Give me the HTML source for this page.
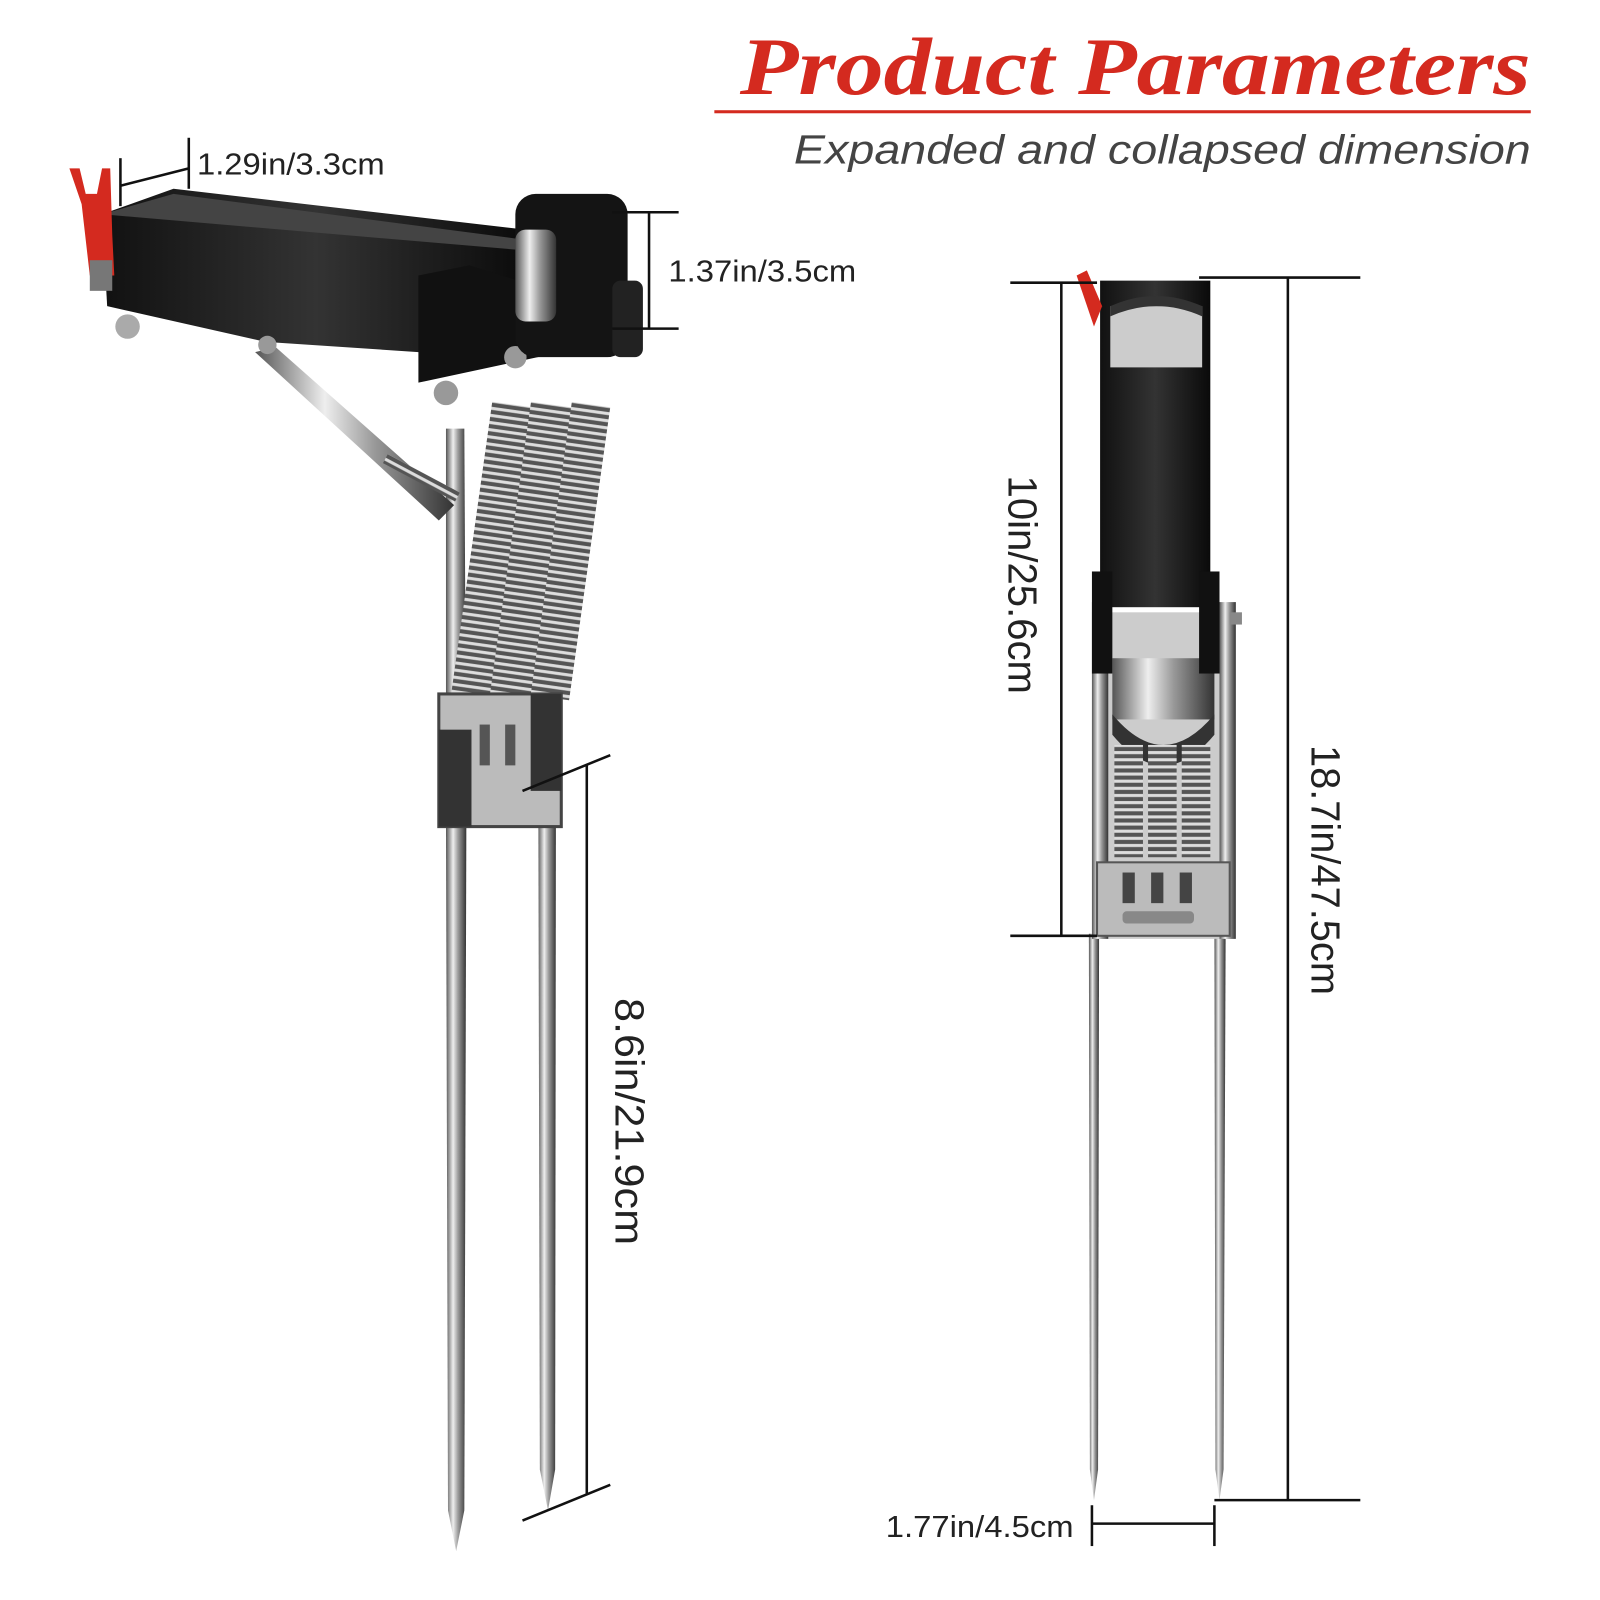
<!DOCTYPE html>
<html><head><meta charset="utf-8"><style>
html,body{margin:0;padding:0;background:#fff;}
svg{display:block}
</style></head><body>
<svg width="1600" height="1600" viewBox="0 0 1600 1600" xmlns="http://www.w3.org/2000/svg">
<defs>
<linearGradient id="steel" x1="0" x2="1" y1="0" y2="0">
<stop offset="0" stop-color="#555"/><stop offset="0.35" stop-color="#eee"/><stop offset="0.6" stop-color="#999"/><stop offset="1" stop-color="#333"/>
</linearGradient>
<linearGradient id="blk" x1="0" x2="1" y1="0" y2="0">
<stop offset="0" stop-color="#111"/><stop offset="0.5" stop-color="#333"/><stop offset="1" stop-color="#0a0a0a"/>
</linearGradient>
<pattern id="spring" width="20" height="7" patternUnits="userSpaceOnUse">
<rect width="20" height="7" fill="#555"/><rect y="1" width="20" height="3" fill="#ddd"/>
</pattern>
</defs>
<g transform="scale(1.0205)">
<text x="725" y="92" textLength="775" lengthAdjust="spacingAndGlyphs" font-family="Liberation Serif, serif" font-weight="bold" font-style="italic" font-size="80" fill="#d42a1f">Product Parameters</text>
<rect x="700" y="108" width="800" height="3" fill="#d42a1f"/>
<text x="778" y="160" textLength="722" lengthAdjust="spacingAndGlyphs" font-family="Liberation Sans, sans-serif" font-style="italic" font-size="40" fill="#444">Expanded and collapsed dimension</text>

<!-- LEFT PRODUCT -->
<polygon points="437,800 457,800 455,1480 447,1520 439,1480" fill="url(#steel)"/>
<polygon points="527,560 545,560 544,1440 537,1480 529,1440" fill="url(#steel)"/>
<polygon points="437,420 455,420 457,800 437,800" fill="url(#steel)"/>
<polygon points="250,345 270,340 445,495 430,510" fill="url(#steel)"/>
<rect x="380" y="445" width="80" height="10" fill="url(#spring)" transform="rotate(28 380 445)"/>
<rect x="462" y="395" width="40" height="290" fill="url(#spring)" transform="rotate(8 482 540)"/>
<rect x="500" y="395" width="40" height="290" fill="url(#spring)" transform="rotate(8 520 540)"/>
<rect x="540" y="395" width="38" height="290" fill="url(#spring)" transform="rotate(8 559 540)"/>
<rect x="430" y="680" width="120" height="130" fill="#bbb" stroke="#444" stroke-width="3"/>
<rect x="430" y="715" width="32" height="95" fill="#333"/>
<rect x="520" y="680" width="30" height="95" fill="#333"/>
<rect x="470" y="710" width="10" height="40" fill="#555"/><rect x="495" y="710" width="10" height="40" fill="#555"/>
<polygon points="100,210 170,185 515,225 520,330 410,345 260,335 105,300" fill="url(#blk)"/>
<polygon points="100,210 510,245 515,235 170,190" fill="#444"/>
<polygon points="410,270 460,260 540,285 550,345 410,375" fill="#111"/>
<circle cx="505" cy="350" r="11" fill="#999"/>
<circle cx="437" cy="385" r="12" fill="#999"/>
<circle cx="125" cy="320" r="12" fill="#aaa"/>
<circle cx="262" cy="338" r="9" fill="#999"/>
<rect x="505" y="190" width="110" height="160" rx="20" fill="#141414"/>
<rect x="505" y="225" width="40" height="90" rx="10" fill="url(#steel)"/>
<rect x="600" y="275" width="30" height="75" rx="8" fill="#222"/>
<polygon points="68,165 78,165 84,190 95,190 100,165 108,165 110,230 112,270 88,270 80,200" fill="#d42a1f"/>
<rect x="88" y="255" width="22" height="30" fill="#777"/>

<!-- RIGHT PRODUCT -->
<polygon points="1067,915 1077,915 1076,1440 1072,1470 1068,1440" fill="url(#steel)"/>
<polygon points="1190,915 1201,915 1199,1440 1195,1470 1191,1440" fill="url(#steel)"/>
<rect x="1070" y="600" width="140" height="320" fill="#ccc"/>
<rect x="1070" y="590" width="16" height="330" fill="url(#steel)"/>
<rect x="1195" y="590" width="16" height="330" fill="url(#steel)"/>
<rect x="1090" y="645" width="100" height="60" fill="url(#steel)"/>
<path d="M1090 700 Q1140 760 1190 700 L1190 720 Q1140 780 1090 720Z" fill="#333"/>
<rect x="1092" y="730" width="28" height="110" fill="url(#spring)"/>
<rect x="1125" y="730" width="28" height="110" fill="url(#spring)"/>
<rect x="1158" y="730" width="28" height="110" fill="url(#spring)"/>
<rect x="1075" y="845" width="130" height="72" fill="#bbb" stroke="#555" stroke-width="2"/>
<rect x="1100" y="855" width="12" height="30" fill="#444"/><rect x="1128" y="855" width="12" height="30" fill="#444"/><rect x="1156" y="855" width="12" height="30" fill="#444"/>
<rect x="1100" y="893" width="70" height="12" rx="4" fill="#888"/>
<rect x="1078" y="275" width="108" height="320" fill="url(#blk)"/>
<rect x="1088" y="300" width="90" height="60" fill="#ccc"/>
<path d="M1088 300 Q1133 280 1178 300 L1178 310 Q1133 290 1088 310Z" fill="#333"/>
<rect x="1070" y="560" width="20" height="100" fill="#111"/>
<rect x="1175" y="560" width="20" height="100" fill="#111"/>
<rect x="1205" y="600" width="12" height="12" fill="#888"/>
<polygon points="1055,270 1065,265 1080,300 1072,320" fill="#d42a1f"/>

<!-- DIMENSION LINES -->
<g stroke="#111" stroke-width="2.5" fill="none">
<line x1="118" y1="155" x2="118" y2="202"/>
<line x1="185" y1="135" x2="185" y2="185"/>
<line x1="118" y1="182" x2="185" y2="165"/>
<line x1="600" y1="208" x2="665" y2="208"/>
<line x1="600" y1="322" x2="665" y2="322"/>
<line x1="636" y1="208" x2="636" y2="322"/>
<line x1="512" y1="775" x2="598" y2="740"/>
<line x1="512" y1="1490" x2="598" y2="1455"/>
<line x1="575" y1="750" x2="575" y2="1464"/>
<line x1="990" y1="277" x2="1075" y2="277"/>
<line x1="990" y1="917" x2="1075" y2="917"/>
<line x1="1040" y1="277" x2="1040" y2="917"/>
<line x1="1175" y1="272" x2="1333" y2="272"/>
<line x1="1190" y1="1470" x2="1333" y2="1470"/>
<line x1="1262" y1="272" x2="1262" y2="1470"/>
<line x1="1070" y1="1475" x2="1070" y2="1515"/>
<line x1="1190" y1="1475" x2="1190" y2="1515"/>
<line x1="1070" y1="1493" x2="1190" y2="1493"/>
</g>
<g font-family="Liberation Sans, sans-serif" font-size="30" fill="#222">
<text x="193" y="171" textLength="184" lengthAdjust="spacingAndGlyphs">1.29in/3.3cm</text>
<text x="655" y="276" textLength="184" lengthAdjust="spacingAndGlyphs">1.37in/3.5cm</text>
<text x="868" y="1506" textLength="184" lengthAdjust="spacingAndGlyphs">1.77in/4.5cm</text>
<text transform="translate(603,978) rotate(90)" font-size="40" textLength="242" lengthAdjust="spacingAndGlyphs">8.6in/21.9cm</text>
<text transform="translate(988,466) rotate(90)" font-size="40" textLength="214" lengthAdjust="spacingAndGlyphs">10in/25.6cm</text>
<text transform="translate(1285,730) rotate(90)" font-size="40" textLength="245" lengthAdjust="spacingAndGlyphs">18.7in/47.5cm</text>
</g>
</g>
</svg>
</body></html>
